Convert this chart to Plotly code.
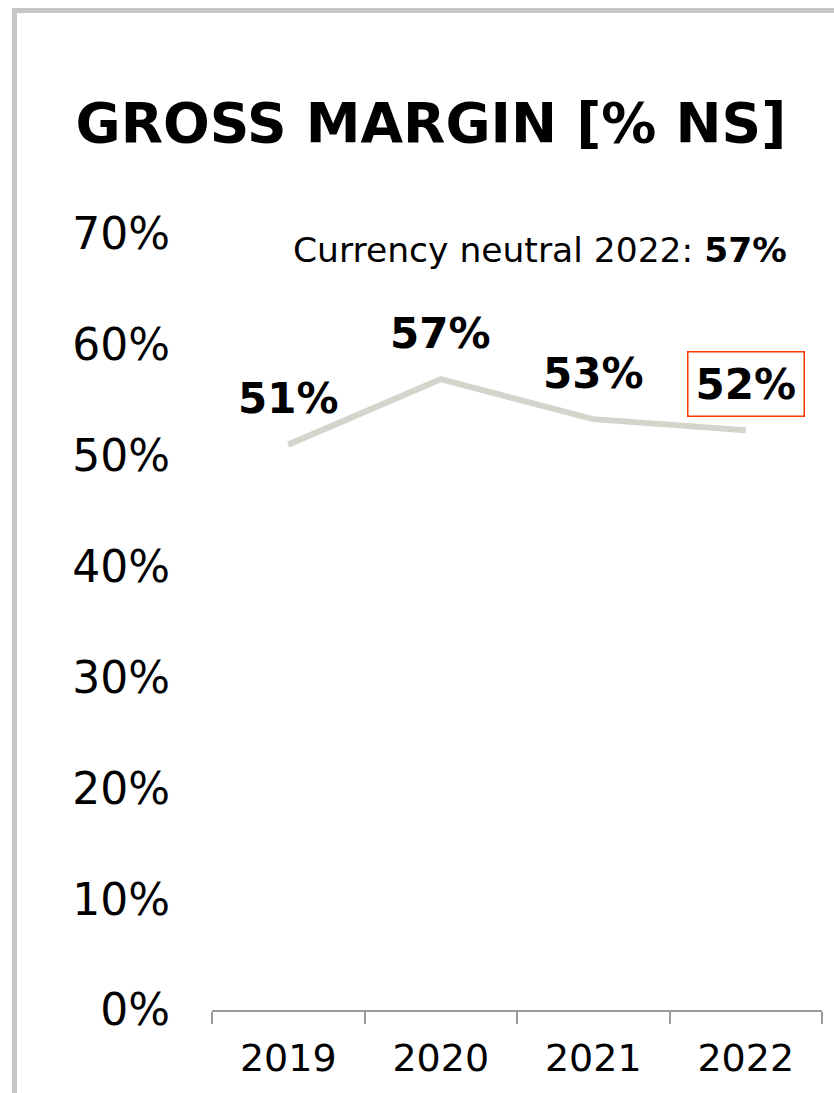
import plotly.graph_objects as go

years = ["2019", "2020", "2021", "2022"]
gross_margin = [0.51, 0.569, 0.533, 0.523]
value_labels = ["51%", "57%", "53%", "52%"]
title_text = "GROSS MARGIN [% NS]"
note_text = "Currency neutral 2022: <b>57%</b>"

W, H = 834, 1093
L, R, T, B = 212, 12, 234, 83
PW, PH = W - L - R, H - T - B


def px_x(x):
    return (x - L) / PW


def px_y(y):
    return (H - B - y) / PH


FONT = "DejaVu Sans"
GRID = "#9a9a9a"

fig = go.Figure()
fig.add_trace(go.Scatter(
    x=years, y=gross_margin, mode="lines",
    line=dict(color="#d4d4cc", width=6),
    hoverinfo="skip", showlegend=False,
))

for i, (v, lab) in enumerate(zip(gross_margin, value_labels)):
    boxed = i == len(years) - 1
    fig.add_annotation(
        x=i, y=v, xref="x", yref="y", text=f"<b>{lab}</b>", showarrow=False,
        yshift=46, yanchor="middle",
        font=dict(family=FONT, size=42, color="black"),
        bordercolor="#ff3300" if boxed else "rgba(0,0,0,0)",
        borderwidth=1.5 if boxed else 0, borderpad=7 if boxed else 0,
    )

fig.add_annotation(
    x=px_x(789), y=px_y(250), xref="paper", yref="paper",
    text=note_text, showarrow=False, xanchor="right", yanchor="middle",
    font=dict(family=FONT, size=34.5, color="black"),
)

# frame lines (top and left)
fig.add_shape(type="line", xref="paper", yref="paper",
              x0=px_x(12), x1=px_x(W + 5), y0=px_y(10.5), y1=px_y(10.5),
              line=dict(color="#c6c6c6", width=5))
fig.add_shape(type="line", xref="paper", yref="paper",
              x0=px_x(14.5), x1=px_x(14.5), y0=px_y(8), y1=px_y(H + 5),
              line=dict(color="#c6c6c6", width=5))

fig.update_layout(
    width=W, height=H,
    margin=dict(l=L, r=R, t=T, b=B, pad=0),
    paper_bgcolor="white", plot_bgcolor="white",
    title=dict(text=f"<b>{title_text}</b>", x=431 / W, y=1 - 123 / H,
               xanchor="center", yanchor="middle", xref="container", yref="container",
               font=dict(family=FONT, size=55, color="black")),
    xaxis=dict(
        type="category", range=[-0.5, 3.5], tickson="boundaries",
        ticks="outside", ticklen=12, tickwidth=1.5, tickcolor=GRID,
        showline=True, linecolor=GRID, linewidth=1.5, showgrid=False,
        zeroline=False, ticklabelstandoff=14,
        tickfont=dict(family=FONT, size=38, color="black"),
    ),
    yaxis=dict(
        range=[0, 0.7], dtick=0.1, tickformat=".0%", showgrid=False,
        zeroline=False, showline=False, ticks="", ticklabelstandoff=41,
        tickfont=dict(family=FONT, size=44, color="black"),
    ),
    showlegend=False,
)

fig.write_html("out.html")
